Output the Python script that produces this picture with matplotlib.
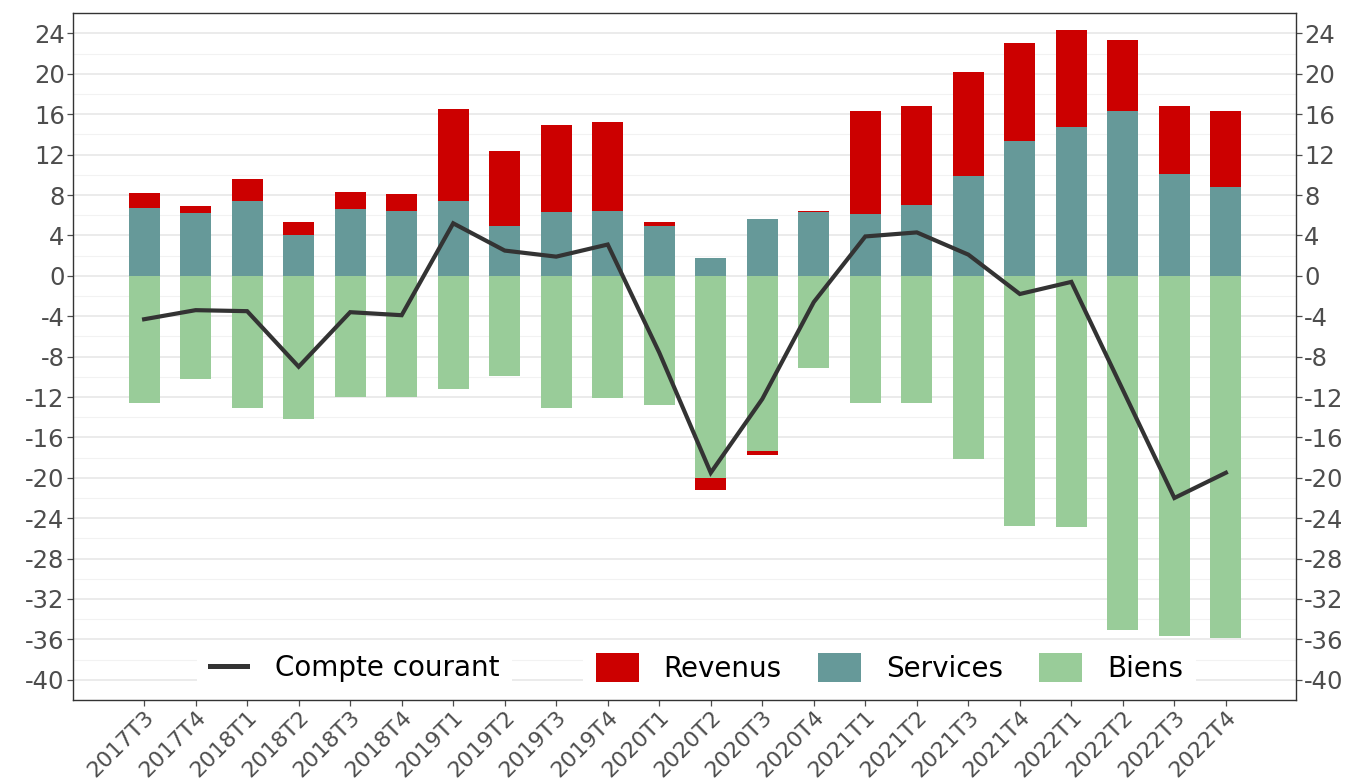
import numpy as np
import matplotlib
matplotlib.use("Agg")
import matplotlib.pyplot as plt
from matplotlib.patches import Patch
from matplotlib.lines import Line2D
import matplotlib.transforms as mtransforms

plt.rcParams['font.family'] = ['DejaVu Sans']
plt.rcParams['axes.unicode_minus'] = False

quarters = ["2017T3", "2017T4", "2018T1", "2018T2", "2018T3", "2018T4",
            "2019T1", "2019T2", "2019T3", "2019T4", "2020T1", "2020T2",
            "2020T3", "2020T4", "2021T1", "2021T2", "2021T3", "2021T4",
            "2022T1", "2022T2", "2022T3", "2022T4"]
biens = [-12.6, -10.2, -13.1, -14.2, -12.0, -12.0, -11.2, -9.9, -13.1, -12.1,
         -12.8, -20.0, -17.3, -9.1, -12.55, -12.6, -18.1, -24.8, -24.9,
         -35.1, -35.7, -35.9]
services = [6.7, 6.2, 7.4, 4.0, 6.6, 6.4, 7.4, 4.9, 6.3, 6.4, 4.9, 1.8,
            5.6, 6.35, 6.1, 7.05, 9.9, 13.4, 14.7, 16.35, 10.05, 8.76]
revenus = [1.5, 0.7, 2.2, 1.3, 1.7, 1.7, 9.1, 7.5, 8.6, 8.8, 0.4, -1.2,
           -0.4, 0.1, 10.2, 9.75, 10.3, 9.65, 9.6, 7.05, 6.75, 7.6]
compte_courant = [-4.3, -3.4, -3.5, -9.0, -3.6, -3.9, 5.2, 2.5, 1.9, 3.1,
                  -7.6, -19.5, -12.2, -2.6, 3.9, 4.3, 2.1, -1.8, -0.6,
                  -11.3, -22.0, -19.5]

c_rev = "#CC0000"
c_serv = "#669999"
c_biens = "#99CC99"
c_line = "#333333"

fig = plt.figure(figsize=(13.6, 7.8), dpi=100)
ax = fig.add_axes([0.0537, 0.1026, 0.9529 - 0.0537, 0.983 - 0.1026])

x = np.arange(len(quarters))
b = np.array(biens)
s = np.array(services)
r = np.array(revenus)
w = 0.6

ax.bar(x, b, width=w, color=c_biens, zorder=2)
ax.bar(x, s, width=w, color=c_serv, zorder=2)
rev_bottom = np.where(r >= 0, s, b)
ax.bar(x, r, width=w, bottom=rev_bottom, color=c_rev, zorder=2)
ax.plot(x, compte_courant, color=c_line, lw=3.0, zorder=3,
        solid_joinstyle='miter')

ax.set_xlim(-1.38, 22.36)
ax.set_ylim(-42, 26)
yt = np.arange(-40, 25, 4)
ax.set_yticks(yt)
ax.set_yticklabels([str(v) for v in yt])
ax.set_yticks(np.arange(-42, 26, 2), minor=True)
ax.grid(axis='y', which='major', color='#EBEBEB', lw=1.4, zorder=0)
ax.grid(axis='y', which='minor', color='#F2F2F2', lw=0.8, zorder=0)
ax.set_axisbelow(True)

ax.set_xticks(x)
ax.set_xticklabels(quarters, rotation=45, ha='right', va='top',
                   rotation_mode='anchor')
offset = mtransforms.ScaledTranslation(13 / 100, 0, fig.dpi_scale_trans)
for lab in ax.get_xticklabels():
    lab.set_transform(lab.get_transform() + offset)

ax.tick_params(axis='y', which='major', labelsize=17.5, colors='#4D4D4D',
               length=4, width=0.9, right=True, labelright=True, pad=2)
ax.tick_params(axis='y', which='minor', length=0)
ax.tick_params(axis='x', labelsize=16, colors='#4D4D4D', length=4,
               width=0.9, pad=1)
for t in ax.yaxis.get_ticklines() + ax.xaxis.get_ticklines():
    t.set_color('#333333')
for sp in ax.spines.values():
    sp.set_color('#333333')
    sp.set_linewidth(1.0)

h1 = [Line2D([0], [0], color=c_line, lw=3.6)]
leg1 = ax.legend(h1, ["Compte courant"], loc='center left',
                 bbox_to_anchor=(0.1452, 0.1436), bbox_transform=fig.transFigure,
                 fontsize=20, frameon=True, fancybox=False, edgecolor='none',
                 facecolor='white', framealpha=1, handlelength=1.35,
                 handletextpad=1.0, borderpad=0.45, borderaxespad=0)
ax.add_artist(leg1)
h2 = [Patch(facecolor=c_rev), Patch(facecolor=c_serv), Patch(facecolor=c_biens)]
leg2 = ax.legend(h2, ["Revenus", "Services", "Biens"], loc='center left',
                 bbox_to_anchor=(0.4287, 0.1436), bbox_transform=fig.transFigure,
                 ncol=3, fontsize=20, frameon=True, fancybox=False,
                 edgecolor='none', facecolor='white', framealpha=1,
                 handlelength=1.55, handleheight=1.2, handletextpad=0.9,
                 columnspacing=1.3, borderpad=0.45, borderaxespad=0)
leg1.set_zorder(5)
leg2.set_zorder(1.5)

fig.savefig("out.png", dpi=100, facecolor='white')
